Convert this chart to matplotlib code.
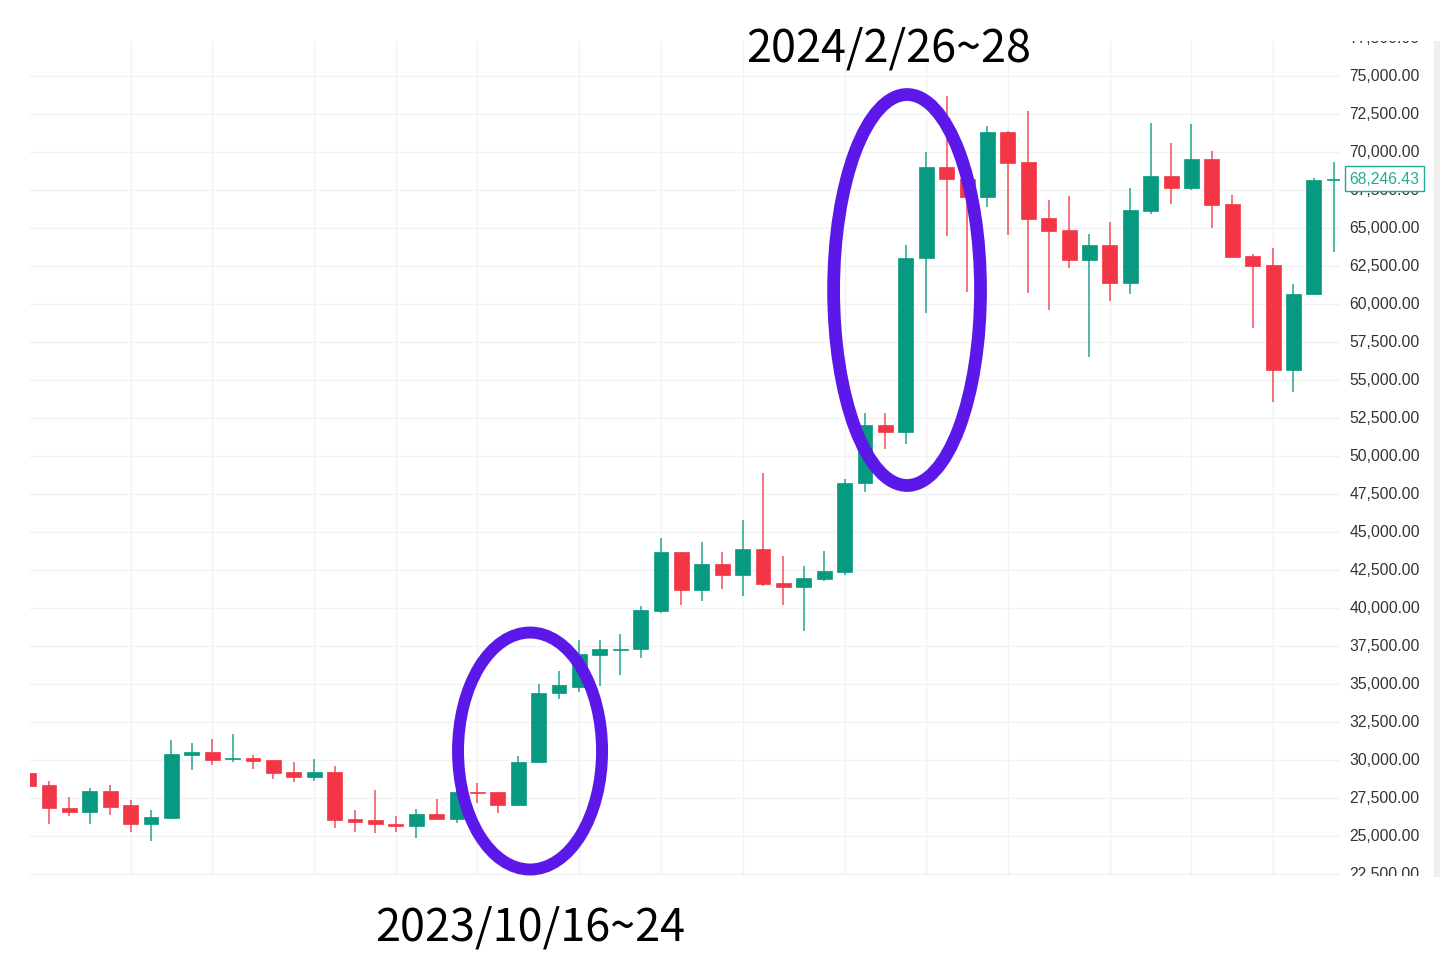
import matplotlib
matplotlib.use('Agg')
import matplotlib.pyplot as plt
from matplotlib.patches import Ellipse
import numpy as np

# candle data
opens = [29150, 28360, 26850, 26550, 27960, 27010, 25760, 26180, 30320, 30540,
         30070, 30150, 29970, 29210, 28910, 29210, 26090, 26020, 25820, 25690,
         26470, 26120, 27900, 27870, 27030, 29840, 34410, 34830, 36910, 37240,
         37300, 39800, 43700, 41190, 42910, 42140, 43850, 41650, 41350, 41910,
         42380, 48210, 52050, 51550, 63010, 68980, 68220, 67050, 71320, 69340,
         65630, 64840, 62900, 63890, 61350, 66120, 68430, 67600, 69540, 66550,
         63130, 62580, 55690, 60650, 68140]
highs = [29150, 28620, 27570, 28190, 28350, 27340, 26710, 31340, 31150, 31370,
         31710, 30300, 29990, 29900, 30070, 29590, 26710, 28030, 26300, 26780,
         27410, 27950, 28500, 27870, 30230, 35000, 35870, 37900, 37900, 38290,
         40100, 44610, 43700, 44310, 43700, 45800, 48850, 43450, 42730, 43760,
         48490, 52800, 52860, 63900, 70010, 73690, 68800, 71690, 71400, 72700,
         66810, 67100, 64600, 65400, 67600, 71910, 70590, 71810, 70080, 67180,
         63290, 63660, 61320, 68290, 69310]
lows = [28290, 25790, 26320, 25760, 26390, 25280, 24670, 26150, 29350, 29680,
        29850, 29440, 28750, 28520, 28590, 25540, 25280, 25200, 25280, 24850,
        26090, 25850, 27150, 26480, 27000, 29800, 34010, 34480, 34840, 35590,
        36680, 39700, 40190, 40430, 41280, 40800, 41450, 40190, 38460, 41750,
        42140, 47620, 50460, 50820, 59380, 64500, 60790, 66350, 64540, 60720,
        59610, 62370, 56480, 60170, 60690, 65950, 66580, 67510, 65010, 63060,
        58430, 53520, 54220, 60600, 63390]
closes = [28290, 26820, 26580, 27960, 26940, 25760, 26230, 30380, 30540, 29990,
          30150, 29930, 29140, 28910, 29210, 26020, 25930, 25760, 25690, 26470,
          26090, 27870, 27820, 27030, 29900, 34440, 34930, 36970, 37300, 37300,
          39870, 43700, 41190, 42910, 42140, 43850, 41590, 41350, 41970, 42450,
          48230, 52050, 51550, 63030, 68980, 68220, 67050, 71320, 69280, 65580,
          64800, 62900, 63890, 61350, 66190, 68430, 67600, 69540, 66510, 63060,
          62510, 55690, 60690, 68140, 68246.43]
last_price = 68246.43

price_ticks = list(range(22500, 80000, 2500))
vgrid_idx = [5, 9, 14, 18, 22, 27, 31, 35, 40, 44, 48, 53, 57, 61]

label_top = '2024/2/26~28'
label_bottom = '2023/10/16~24'

GREEN = '#089981'
RED = '#f23645'
PURPLE = '#5c18e8'

W, H = 1445, 962
fig = plt.figure(figsize=(W / 100, H / 100), dpi=100)
fig.patch.set_facecolor('white')

def px_rect(x0, y0, x1, y1):
    return [x0 / W, 1 - y1 / H, (x1 - x0) / W, (y1 - y0) / H]

ax = fig.add_axes(px_rect(30, 42, 1340, 877))
ymin, ymax = 22368, 77302
ax.set_ylim(ymin, ymax)
ax.set_xlim(0.07, 64.28)

x = np.arange(len(opens))
o = np.array(opens, dtype=float)
c = np.array(closes, dtype=float)
up = c >= o
colors = np.where(up, GREEN, RED)

# grid
for v in price_ticks:
    ax.axhline(v, color='#f2f2f2', lw=1, zorder=0)
for i in vgrid_idx:
    ax.axvline(i, color='#f2f2f2', lw=1, zorder=0)

# wicks and bodies
ax.vlines(x, lows, highs, colors=colors, lw=1.3, alpha=0.75, zorder=2)
body_bottom = np.minimum(o, c)
body_h = np.maximum(np.abs(c - o), 90)
ax.bar(x, body_h, bottom=body_bottom, width=0.73, color=colors,
       edgecolor=colors, linewidth=0.5, zorder=3)

for s in ax.spines.values():
    s.set_visible(False)
ax.set_xticks([])
ax.set_yticks([])

# highlight ellipses
ax.add_patch(Ellipse((24.58, 30590), 7.06, 15590, fill=False, ec=PURPLE,
                     lw=8.6, zorder=5, clip_on=False))
ax.add_patch(Ellipse((43.06, 60920), 7.2, 25720, fill=False, ec=PURPLE,
                     lw=9.2, zorder=5, clip_on=False))

# price scale
pax = fig.add_axes(px_rect(1340, 42, 1433, 877))
pax.set_ylim(ymin, ymax)
pax.set_xlim(0, 1)
pax.axis('off')
for v in price_ticks:
    pax.text(0.1, v, f'{v:,.2f}', ha='left', va='center', fontsize=11.3,
             family='Liberation Sans', color='#333333', clip_on=True)
pax.text(0.1, last_price, f'{last_price:,.2f}', ha='left', va='center',
         fontsize=11.3, family='Liberation Sans', color='#22ab94', zorder=5,
         bbox=dict(boxstyle='square,pad=0.3', fc='white', ec='#22ab94', lw=1))

# right strip
sax = fig.add_axes(px_rect(1434, 42, 1440, 878))
sax.set_facecolor('#efefef')
sax.set_xticks([])
sax.set_yticks([])
for s in sax.spines.values():
    s.set_visible(False)

fig.text(889 / W, 1 - 62 / H, label_top, ha='center', va='baseline',
         fontsize=32.4, family=['Noto Sans CJK JP', 'DejaVu Sans'], color='black')
fig.text(530 / W, 1 - 941 / H, label_bottom, ha='center', va='baseline',
         fontsize=32.4, family=['Noto Sans CJK JP', 'DejaVu Sans'], color='black')

fig.savefig('out.png', dpi=100)
